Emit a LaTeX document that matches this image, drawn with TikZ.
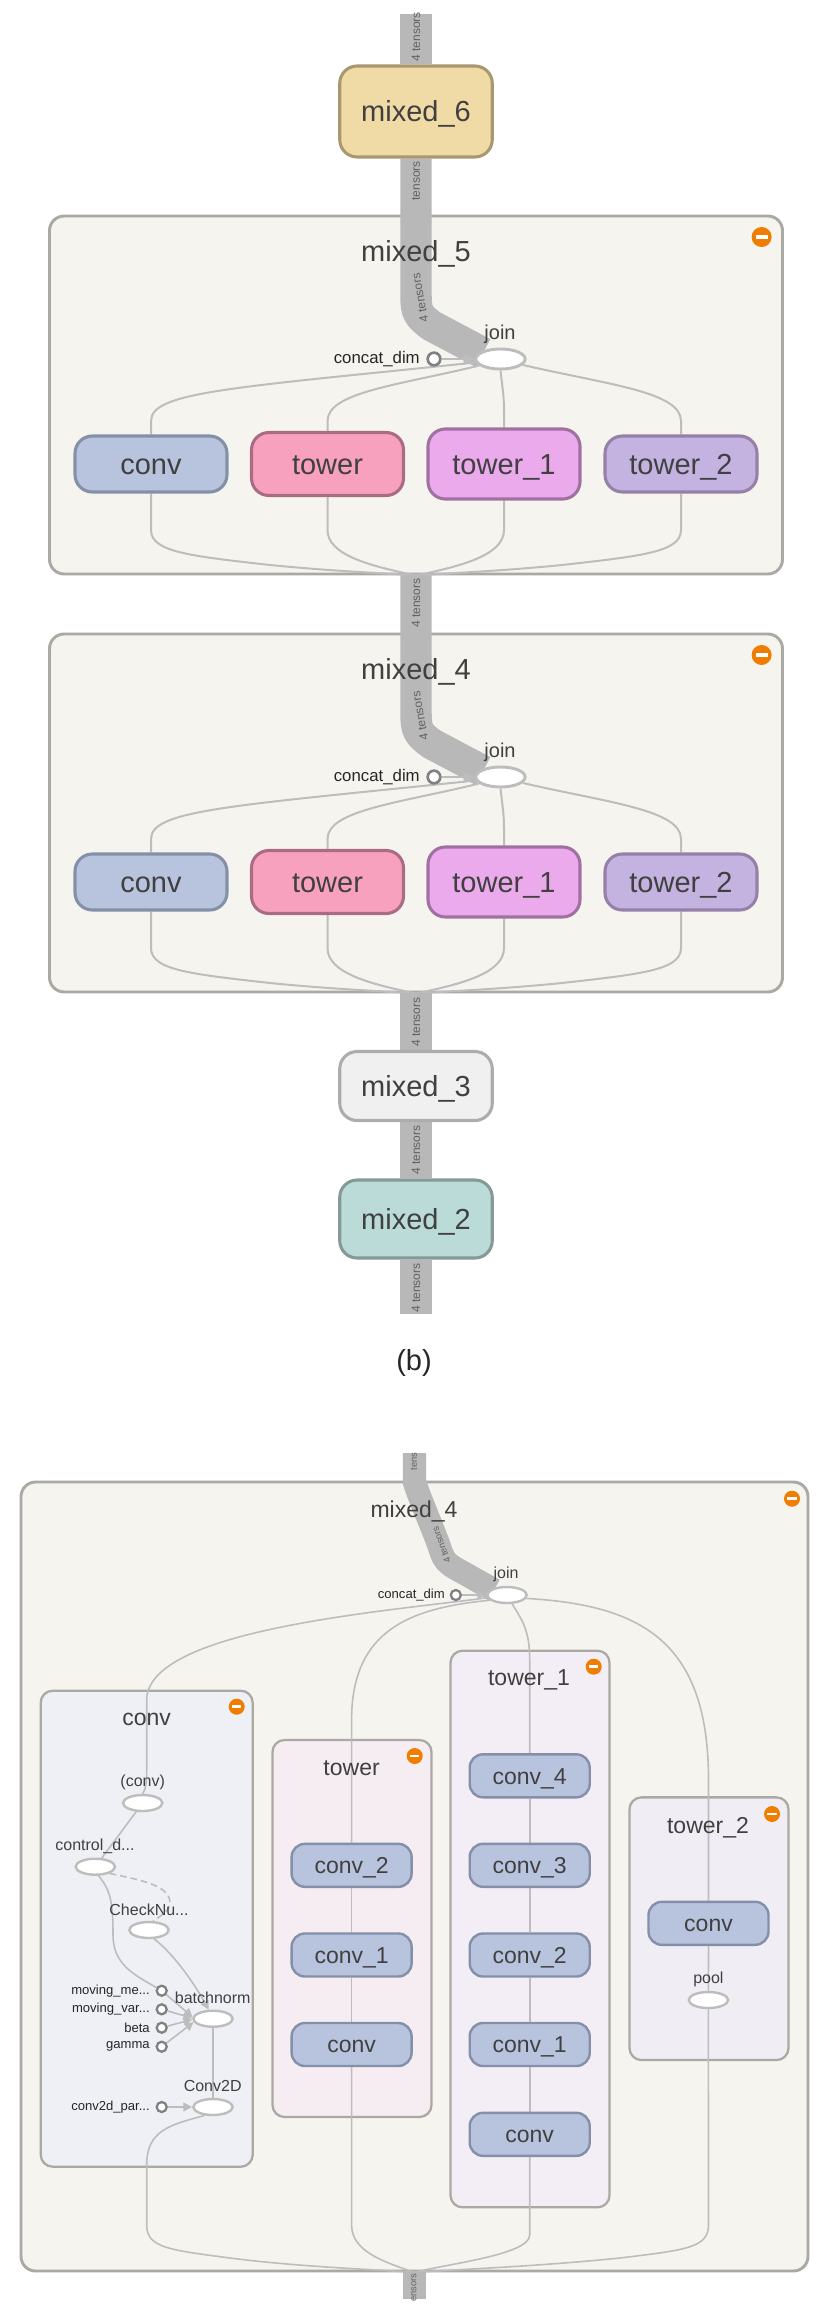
\documentclass[tikz,border=0pt]{standalone}
\usepackage{fontspec}
\setmainfont{Liberation Sans}
\usetikzlibrary{shapes.geometric,arrows.meta}
\pgfdeclarelayer{frames}\pgfdeclarelayer{edges}
\pgfsetlayers{frames,edges,main}
\definecolor{barc}{HTML}{B8B8B8}
\definecolor{linec}{HTML}{BDBDBD}
\definecolor{framec}{HTML}{ABA9A4}
\definecolor{framef}{HTML}{F6F4EF}
\definecolor{txt}{HTML}{404040}
\definecolor{orangec}{HTML}{F07C00}
\definecolor{bluef}{HTML}{B8C4DE}
\definecolor{blues}{HTML}{848FA8}
\definecolor{pinkf}{HTML}{F8A1BE}
\definecolor{pinks}{HTML}{A96C84}
\definecolor{violf}{HTML}{EAAAEC}
\definecolor{viols}{HTML}{A070A0}
\definecolor{purpf}{HTML}{C4B3E0}
\definecolor{purps}{HTML}{9580A8}
\definecolor{sandf}{HTML}{F0DAA5}
\definecolor{sands}{HTML}{A89870}
\definecolor{grayf}{HTML}{F0F0F0}
\definecolor{grays}{HTML}{ACACAC}
\definecolor{tealf}{HTML}{BBDBD9}
\definecolor{teals}{HTML}{849998}
\definecolor{gaf}{HTML}{EEF0F6}
\definecolor{gbf}{HTML}{F5EDF1}
\definecolor{gcf}{HTML}{F3EDF5}
\definecolor{gdf}{HTML}{F0EDF5}
\tikzset{
  sz/.style 2 args={minimum width=#1*0.75pt,minimum height=#2*0.75pt},
  bx/.style 2 args={rectangle,rounded corners=13pt,draw=#2,fill=#1,line width=2.3pt,inner sep=0pt,text=txt,text height=15.7pt,text depth=0pt,font=\fontsize{21.75}{24}\selectfont},
  sbx/.style={rectangle,rounded corners=10pt,draw=#1,fill=bluef,line width=1.8pt,inner sep=0pt,text=txt,text height=12.4pt,text depth=0pt,font=\fontsize{17.25}{20}\selectfont},
  outer/.style={rectangle,rounded corners=11pt,draw=framec,fill=framef,line width=2.2pt,inner sep=0pt},
  grp/.style={rectangle,rounded corners=9pt,draw=framec,fill=#1,line width=1.7pt,inner sep=0pt},
  ttl/.style={inner sep=0pt,text=txt,text height=15.7pt,text depth=0pt,font=\fontsize{21.75}{24}\selectfont},
  sttl/.style={inner sep=0pt,text=txt,text height=12.4pt,text depth=0pt,font=\fontsize{17.25}{20}\selectfont},
  lbl/.style={inner sep=0pt,text=txt,font=\fontsize{15}{18}\selectfont},
  slbl/.style={inner sep=0pt,text=txt,font=\fontsize{12}{14}\selectfont},
  clbl/.style={inner sep=0pt,text=black!85,anchor=east,font=\fontsize{12.6}{14}\selectfont},
  sclbl/.style={inner sep=0pt,text=black!85,anchor=east,font=\fontsize{9.8}{12}\selectfont},
  opn/.style={ellipse,draw=linec,fill=white,line width=2.2pt,inner sep=0pt,minimum width=37pt,minimum height=15pt},
  sopn/.style={ellipse,draw=linec,fill=white,line width=1.8pt,inner sep=0pt,minimum width=29.5pt,minimum height=12pt},
  cst/.style={circle,draw=black!50,fill=white,line width=2pt,inner sep=0pt,minimum size=9.5pt},
  scst/.style={circle,draw=black!50,fill=white,line width=1.7pt,inner sep=0pt,minimum size=7.5pt},
  edge/.style={draw=linec,line width=1.5pt},
  sedge/.style={draw=linec,line width=1.2pt},
  tip/.style={-{Triangle[length=8pt,width=8pt]}},
  stip/.style={-{Triangle[length=6.5pt,width=6.5pt]}},
  bar/.style={draw=barc,line width=23.6pt},
  sbar/.style={draw=barc,line width=17.6pt},
  blab/.style={inner sep=0pt,text=black!62,rotate=90,font=\fontsize{9}{10}\selectfont},
  sblab/.style={inner sep=0pt,text=black!62,rotate=90,font=\fontsize{7}{8}\selectfont},
  minus/.style={circle,fill=orangec,text=white,inner sep=0pt,minimum size=#1*1.5pt},
}
\newcommand{\mixedgroup}[3]{%
  % #1 prefix, #2 title, #3 source of the thick edge
  \begin{pgfonlayer}{frames}
    \node[outer,sz={733}{358}] (#1f) at (416,395) {};
  \end{pgfonlayer}
  \node[ttl] (#1t) at (416,251) {#2};
  \node[minus=10] (#1m) at (761.6,237) {\rule{9pt}{2.6pt}};
  \node[opn] (#1join) at (500.5,359) {};
  \node[lbl] (#1jl) at (500,334) {join};
  \node[cst] (#1cd) at (434,359) {};
  \node[clbl] (#1cdl) at (420,359) {concat\_dim};
  \node[bx={bluef}{blues},sz={152}{56}] (#1a) at (151,464) {conv};
  \node[bx={pinkf}{pinks},sz={152}{63}] (#1b) at (327.5,464) {tower};
  \node[bx={violf}{viols},sz={152}{70}] (#1c) at (504,464) {tower\_1};
  \node[bx={purpf}{purps},sz={152}{56}] (#1d) at (681,464) {tower\_2};
  \coordinate (#1barend) at (483,353);
  \begin{pgfonlayer}{edges}
    \draw[bar] (#3) -- (416,295) .. controls (416,312) and (418,316) .. (432,326) -- (#1barend);
    \draw[edge,tip] (#1cd) -- (#1join);
    \draw[edge] (#1a.north) -- (151,421) .. controls (151,392) and (230,388) .. (#1join.188);
    \draw[edge] (#1b.north) -- (327.5,421) .. controls (327.5,392) and (400,385) .. (#1join.197);
    \draw[edge] (#1c.north) -- (504,410) .. controls (504,395) and (502,385) .. (#1join.south);
    \draw[edge] (#1d.north) -- (681,421) .. controls (681,392) and (610,385) .. (#1join.-15);
    \draw[edge] (#1a.south) -- (151,530) .. controls (151,552) and (190,556) .. (270,565) .. controls (330,571) and (380,573) .. (#1f.south);
    \draw[edge] (#1b.south) -- (327.5,530) .. controls (327.5,555) and (370,566) .. (#1f.south);
    \draw[edge] (#1c.south) -- (504,530) .. controls (504,555) and (462,566) .. (#1f.south);
    \draw[edge] (#1d.south) -- (681,530) .. controls (681,552) and (642,556) .. (562,565) .. controls (502,571) and (452,573) .. (#1f.south);
  \end{pgfonlayer}
  \node[blab,rotate=10] (#1bl) at (420,298) {4 tensors};
}
\begin{document}
\begin{tikzpicture}[x=0.75pt,y=-0.75pt]
\useasboundingbox (0,0) rectangle (825,2311);
\begin{pgfonlayer}{frames}
\fill[white] (0,0) rectangle (825,2311);
\end{pgfonlayer}
% --- panel (b) ---
\coordinate (top) at (416,14);
\coordinate (botb) at (416,1314);
\node[bx={sandf}{sands},sz={152.5}{91}] (m6) at (416,111.5) {mixed\_6};
\mixedgroup{p}{mixed\_5}{m6.south}
\begin{scope}[shift={(0,418)}]
\mixedgroup{q}{mixed\_4}{pf.south}
\end{scope}
\node[bx={grayf}{grays},sz={152.5}{69}] (m3) at (416,1086) {mixed\_3};
\node[bx={tealf}{teals},sz={152.5}{78}] (m2) at (416,1219) {mixed\_2};
\begin{pgfonlayer}{edges}
  \draw[bar] (top) -- (m6.north);
  \draw[bar] (qf.south) -- (m3.north);
  \draw[bar] (m3.south) -- (m2.north);
  \draw[bar] (m2.south) -- (botb);
\end{pgfonlayer}
\node[blab] (l1) at (416,37) {4 tensors};
\node[blab] (l2) at (416,181) {tensors};
\node[blab] (l3) at (416,603) {4 tensors};
\node[blab] (l4) at (416,1022) {4 tensors};
\node[blab] (l5) at (416,1150) {4 tensors};
\node[blab] (l6) at (416,1288) {4 tensors};
\node[inner sep=0pt,text=black!85,font=\fontsize{21.75}{24}\selectfont] (cap) at (414,1363) {(b)};
% --- panel (c) ---
\coordinate (topc) at (414.5,1453);
\coordinate (botc) at (414.5,2299);
\coordinate (barcend) at (494,1590);
\begin{pgfonlayer}{frames}
  \node[outer,sz={787}{789}] (F) at (414.5,1876.5) {};
  \node[grp=gaf,sz={212}{476}] (Ga) at (146.7,1928.7) {};
  \node[grp=gbf,sz={159}{377}] (Gb) at (352,1928.5) {};
  \node[grp=gcf,sz={159}{556.6}] (Gc) at (530,1929) {};
  \node[grp=gdf,sz={159}{262.7}] (Gd) at (709,1928.7) {};
\end{pgfonlayer}
\node[sttl] (Ft) at (414,1509) {mixed\_4};
\node[minus=8] (Fm) at (792,1498.7) {\rule{7pt}{2pt}};
\node[sopn] (J) at (507,1595) {};
\node[slbl] (Jl) at (506,1574) {join};
\node[scst] (Jc) at (455.8,1595) {};
\node[sclbl] (Jcl) at (445,1595) {concat\_dim};
% conv group
\node[sttl] (Gat) at (146.7,1717.7) {conv};
\node[minus=8] (Gam) at (236.7,1706.7) {\rule{7pt}{2pt}};
\node[sopn] (oa) at (142.7,1803) {};
\node[slbl] (oal) at (142.7,1782.7) {(conv)};
\node[sopn] (ob) at (95.3,1866.7) {};
\node[slbl] (obl) at (95,1846) {control\_d...};
\node[sopn] (oc) at (149,1930) {};
\node[slbl] (ocl) at (149,1909.3) {CheckNu...};
\node[sopn] (od) at (213,2018.7) {};
\node[slbl] (odl) at (212.7,1997.7) {batchnorm};
\node[sopn] (oe) at (213,2107) {};
\node[slbl] (oel) at (212.7,2086) {Conv2D};
\node[scst] (ca) at (161.7,1990.7) {};
\node[scst] (cb) at (161.7,2009.3) {};
\node[scst] (cc) at (161.7,2027.7) {};
\node[scst] (cd) at (161.7,2046.7) {};
\node[scst] (ce) at (161.7,2107) {};
\node[sclbl] (cal) at (150,1990.7) {moving\_me...};
\node[sclbl] (cbl) at (150,2009.3) {moving\_var...};
\node[sclbl] (ccl) at (150,2027.7) {beta};
\node[sclbl] (cdl) at (150,2046.7) {gamma};
\node[sclbl] (cel) at (150,2107) {conv2d\_par...};
% tower group
\node[sttl] (Gbt) at (351.6,1767.7) {tower};
\node[minus=8] (Gbm) at (414.7,1756) {\rule{7pt}{2pt}};
\node[sbx=blues,sz={120}{43}] (b2) at (351.6,1865.3) {conv\_2};
\node[sbx=blues,sz={120}{43}] (b1) at (351.6,1955) {conv\_1};
\node[sbx=blues,sz={120}{43}] (b0) at (351.6,2044.5) {conv};
% tower_1 group
\node[sttl] (Gct) at (529,1677.7) {tower\_1};
\node[minus=8] (Gcm) at (593.7,1666.7) {\rule{7pt}{2pt}};
\node[sbx=blues,sz={120}{43}] (c4) at (529.7,1775.8) {conv\_4};
\node[sbx=blues,sz={120}{43}] (c3) at (529.7,1865.3) {conv\_3};
\node[sbx=blues,sz={120}{43}] (c2) at (529.7,1955) {conv\_2};
\node[sbx=blues,sz={120}{43}] (c1) at (529.7,2044.5) {conv\_1};
\node[sbx=blues,sz={120}{43}] (c0) at (529.7,2134.3) {conv};
% tower_2 group
\node[sttl] (Gdt) at (708,1825) {tower\_2};
\node[minus=8] (Gdm) at (772,1814) {\rule{7pt}{2pt}};
\node[sbx=blues,sz={120}{43}] (d0) at (708.5,1923.3) {conv};
\node[sopn] (dp) at (708.4,2000) {};
\node[slbl] (dpl) at (708.4,1979.3) {pool};
\begin{pgfonlayer}{edges}
  \draw[sbar] (topc) -- (414.5,1482) .. controls (420,1500) and (436,1535) .. (441.5,1553) .. controls (444,1560) and (448,1564) .. (454,1567.5) -- (barcend);
  \draw[sedge,stip] (Jc) -- (J);
  \draw[sedge] (J.188) .. controls (380,1612) and (147,1630) .. (146.7,1700) -- (146.7,1770) .. controls (146.7,1785) and (145,1790) .. (oa.north);
  \draw[sedge] (oa) -- (ob);
  \draw[sedge] (ob.-70) .. controls (110,1890) and (113,1900) .. (113,1935) .. controls (113,1965) and (135,1975) .. (ca);
  \draw[sedge,dash pattern=on 5pt off 3pt] (ob.-25) .. controls (140,1880) and (170,1885) .. (170,1903) .. controls (170,1910) and (162,1915) .. (oc.65);
  \draw[sedge,stip] (oc.-60) .. controls (175,1955) and (195,1985) .. (od.115);
  \draw[sedge,stip] (ca) -- (od.175);
  \draw[sedge,stip] (cb) -- (od.178);
  \draw[sedge,stip] (cc) -- (od.182);
  \draw[sedge,stip] (cd) -- (od.190);
  \draw[sedge] (od) -- (oe);
  \draw[sedge,stip] (ce) -- (oe);
  \draw[sedge] (oe.-135) .. controls (170,2125) and (146.7,2130) .. (146.7,2165) -- (146.7,2225) .. controls (146.7,2248) and (170,2250) .. (230,2258) .. controls (300,2267) and (370,2269) .. (F.south);
  \draw[sedge] (J.197) .. controls (410,1608) and (351.6,1630) .. (351.6,1720) -- (b2.north);
  \draw[sedge] (b2) -- (b1);
  \draw[sedge] (b1) -- (b0);
  \draw[sedge] (b0.south) -- (351.6,2225) .. controls (351.6,2252) and (385,2262) .. (F.south);
  \draw[sedge] (J.-60) .. controls (522,1620) and (529.7,1630) .. (529.7,1660) -- (c4.north);
  \draw[sedge] (c4) -- (c3);
  \draw[sedge] (c3) -- (c2);
  \draw[sedge] (c2) -- (c1);
  \draw[sedge] (c1) -- (c0);
  \draw[sedge] (c0.south) -- (529.7,2235) .. controls (529.7,2255) and (445,2264) .. (F.south);
  \draw[sedge] (J.-10) .. controls (640,1605) and (708.5,1640) .. (708.5,1780) -- (d0.north);
  \draw[sedge] (d0) -- (dp);
  \draw[sedge] (dp.south) -- (708.5,2225) .. controls (708.5,2248) and (685,2250) .. (620,2258) .. controls (530,2267) and (460,2269) .. (F.south);
  \draw[sbar] (F.south) -- (botc);
\end{pgfonlayer}
\node[sblab] (s1) at (414,1461.5) {tens};
\node[sblab,rotate=20] (s2) at (441.5,1545) {4 tensors};
\node[sblab] (s3) at (414,2287.5) {ensors};
\end{tikzpicture}
\end{document}
